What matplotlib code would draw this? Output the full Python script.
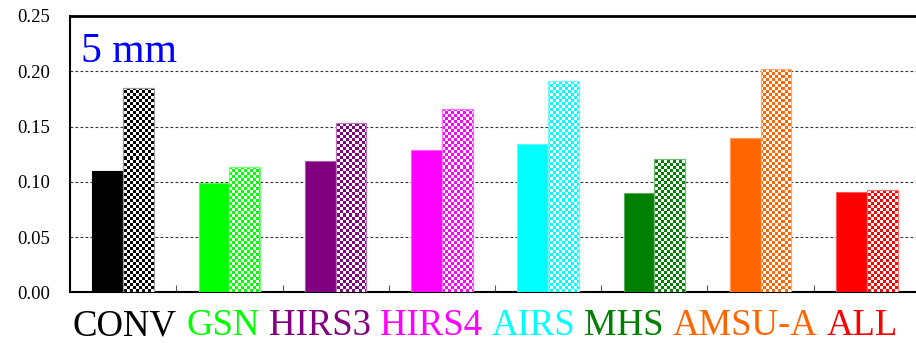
import numpy as np
import matplotlib
matplotlib.use("Agg")
import matplotlib.pyplot as plt
from matplotlib.colors import ListedColormap, to_rgb

categories = ["CONV", "GSN", "HIRS3", "HIRS4", "AIRS", "MHS", "AMSU-A", "ALL"]
colors = ["#000000", "#00FF00", "#800080", "#FF00FF", "#00FFFF", "#008000", "#FF6600", "#FF0000"]
run_a = [0.110, 0.099, 0.119, 0.129, 0.134, 0.090, 0.140, 0.091]   # solid bars
run_b = [0.185, 0.113, 0.153, 0.166, 0.191, 0.121, 0.202, 0.093]   # checkered bars
yticks = [0.00, 0.05, 0.10, 0.15, 0.20, 0.25]
panel_label = "5 mm"

SERIF = ["Liberation Serif", "DejaVu Serif"]

W, H, DPI = 916, 343, 100
fig = plt.figure(figsize=(W / DPI, H / DPI), dpi=DPI)

ax_l, ax_r, ax_t, ax_b = 70, 920, 16, 292.3
ax = fig.add_axes([ax_l / W, (H - ax_b) / H, (ax_r - ax_l) / W, (ax_b - ax_t) / H])

x = np.arange(len(categories))
bw = 0.29
xlim = (-0.5, len(categories) - 0.5)
ylim = (0.0, 0.25)


def lighten(c, f):
    r, g, b = to_rgb(c)
    return (r + (1 - r) * f, g + (1 - g) * f, b + (1 - b) * f)


# checkerboard mask covering the whole axes, 3 px cells
px_w, px_h = int(round(ax_r - ax_l)), int(round(ax_b - ax_t))
rr, cc = np.mgrid[0:px_h, 0:px_w]
checker = ((rr // 3 + cc // 3) % 2).astype(float)

for xi, a, b, col in zip(x, run_a, run_b, colors):
    edge_a = "#000000" if col == "#000000" else lighten(col, 0.35)
    edge_b = "#999999" if col == "#000000" else lighten(col, 0.45)
    ax.bar(xi - bw / 2, a, width=bw, color=col, edgecolor=edge_a, linewidth=0.8, zorder=3)
    bars = ax.bar(xi + bw / 2, b, width=bw, color="white", edgecolor="none", zorder=3)
    im = ax.imshow(checker, cmap=ListedColormap(["white", col]), extent=(*xlim, *ylim),
                   origin="upper", interpolation="nearest", aspect="auto", zorder=4)
    im.set_clip_path(bars.patches[0])
    ax.bar(xi + bw / 2, b, width=bw, facecolor="none", edgecolor=edge_b, linewidth=0.9, zorder=5)

ax.set_xlim(*xlim)
ax.set_ylim(*ylim)
ax.set_yticks(yticks)
ax.set_yticklabels([f"{v:.2f}" for v in yticks], fontfamily=SERIF, fontsize=13.5)
ax.tick_params(axis="y", length=0, pad=14)

# group separators on the bottom axis
ax.set_xticks(x[:-1] + 0.5)
ax.set_xticklabels([])
ax.tick_params(axis="x", direction="in", length=5, width=0.8, color="#555555")

for yv in yticks[1:-1]:
    ax.axhline(yv, color="#333333", linewidth=0.8, linestyle=(0, (2.5, 2)), zorder=1)

ax.spines["right"].set_visible(False)
ax.spines["top"].set_linewidth(2.0)
ax.spines["left"].set_linewidth(1.5)
ax.spines["bottom"].set_linewidth(1.5)

ax.text((81 - ax_l) / (ax_r - ax_l), (ax_b - 62) / (ax_b - ax_t), panel_label,
        transform=ax.transAxes, fontfamily=SERIF, fontsize=30, color="#0000FF",
        ha="left", va="baseline")

# category names as one coloured line of text below the axes
label_size = 26.5
space_pt = 0.25 * label_size
prev = fig.text(73 / W, (H - 335) / H, categories[0], color=colors[0],
                fontfamily=SERIF, fontsize=label_size, ha="left", va="baseline")
for name, col in zip(categories[1:], colors[1:]):
    prev = ax.annotate(name, xy=(1, 0), xycoords=prev,
                       xytext=(space_pt, 0), textcoords="offset points",
                       color=col, fontfamily=SERIF, fontsize=label_size,
                       ha="left", va="bottom", annotation_clip=False)

fig.savefig("out.png", dpi=DPI)
